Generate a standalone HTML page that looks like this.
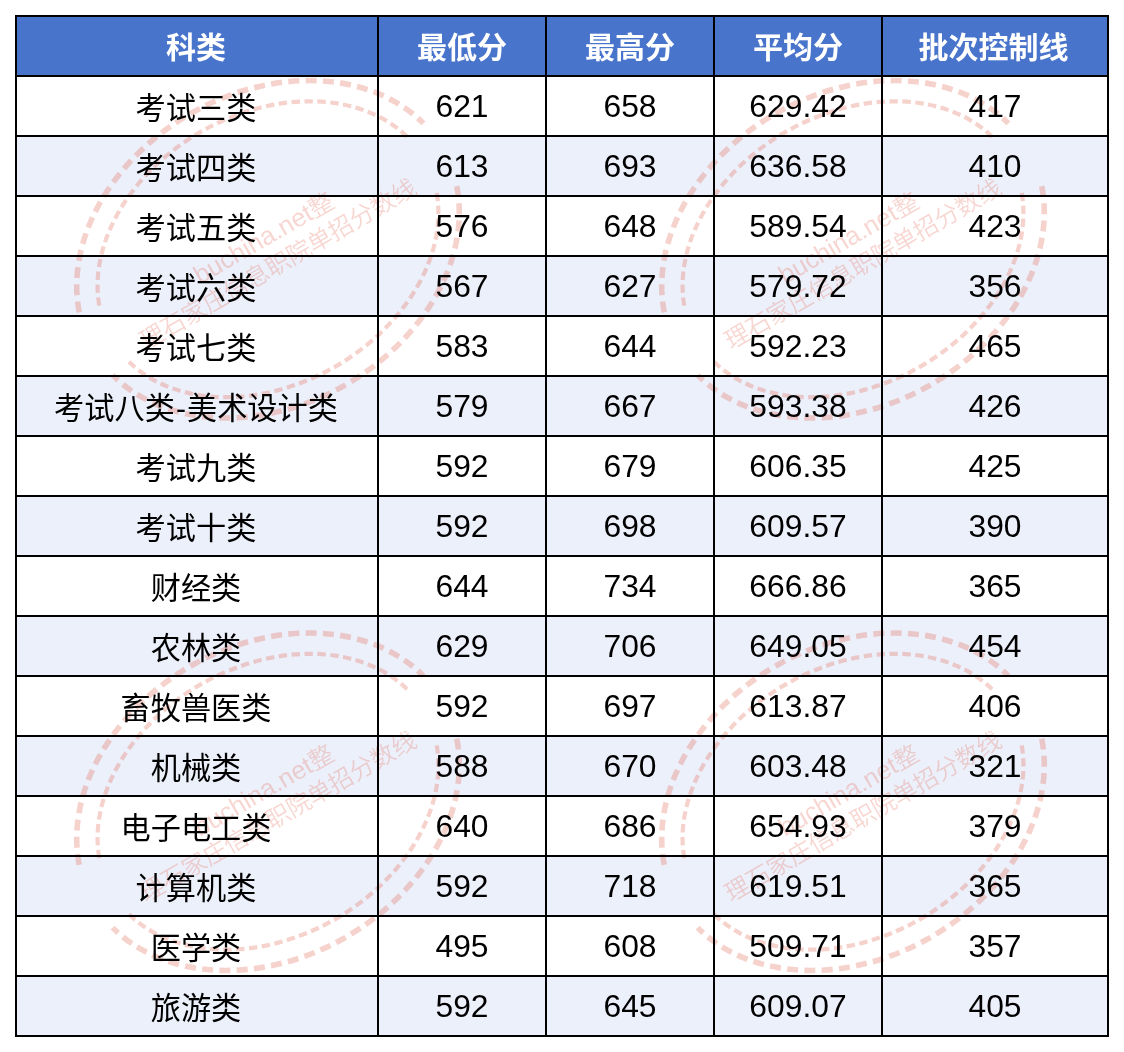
<!DOCTYPE html>
<html lang="zh-CN">
<head>
<meta charset="utf-8">
<title>分数线</title>
<style>
html,body{margin:0;padding:0;background:#fff;}
#pg{position:relative;width:1124px;height:1052px;background:#fff;overflow:hidden;font-family:"Liberation Sans","Noto Sans CJK SC",sans-serif;}
.hb{position:absolute;left:15px;top:15px;width:1094px;height:62px;background:#4874cb;}
.sb{position:absolute;left:15px;width:1094px;height:60px;background:#ecf0fa;}
.vl{position:absolute;top:15px;width:2px;height:1022px;background:#000;}
.hl{position:absolute;left:15px;width:1094px;height:2px;background:#000;}
.r{position:absolute;left:0;width:1124px;height:58px;}
.c{position:absolute;top:0;height:58px;line-height:58px;text-align:center;white-space:nowrap;color:#000;font-size:30px;}
.c.k{line-height:63px;font-size:30.2px;}
.hy{margin:0 1px;}
.c.n{font-size:31.8px;}
.h .c4{left:881.5px}
.h .c{color:#fff;font-weight:bold;font-size:30px;line-height:61px;}
.c0{left:16px;width:360px}.c1{left:379px;width:166px}.c2{left:547px;width:166px}.c3{left:715px;width:166px}.c4{left:883px;width:224px}
#wm{position:absolute;left:0;top:0;}
#wm text{font-family:"Liberation Sans","Noto Sans CJK SC",sans-serif;fill:#e46c5a;font-weight:350;}
</style>
</head>
<body>
<div id="pg">
<div class="hb"></div>
<div class="sb" style="top:136px"></div>
<div class="sb" style="top:256px"></div>
<div class="sb" style="top:376px"></div>
<div class="sb" style="top:496px"></div>
<div class="sb" style="top:616px"></div>
<div class="sb" style="top:736px"></div>
<div class="sb" style="top:856px"></div>
<div class="sb" style="top:976px"></div>
<svg id="wm" width="1124" height="1052" viewBox="0 0 1124 1052">
<g class="seal" opacity="0.30" transform="translate(268 249.25) rotate(-30)">
<path d="M195.0 39.7A201.6 156.2 0 0 1 -197.5 31.3M-195.0 -39.7A201.6 156.2 0 0 1 197.5 -31.3" fill="none" stroke="#e46c5a" stroke-width="5.6" stroke-dasharray="11 6.3"/>
<path d="M174.3 35.5A180.6 135.2 0 0 1 -176.7 28.0M-174.3 -35.5A180.6 135.2 0 0 1 176.7 -28.0" fill="none" stroke="#e46c5a" stroke-width="4.2" stroke-dasharray="8.4 4.5"/>
<text x="-76.5" y="-3.4" font-size="24.5" opacity="0.9"><tspan font-size="25.6">buchina.net</tspan>整</text>
<text x="1.2" y="26.3" font-size="24.2" text-anchor="middle" opacity="0.9">理石家庄信息职院单招分数线</text>
</g>
<g class="seal" opacity="0.30" transform="translate(853 249.25) rotate(-30)">
<path d="M195.0 39.7A201.6 156.2 0 0 1 -197.5 31.3M-195.0 -39.7A201.6 156.2 0 0 1 197.5 -31.3" fill="none" stroke="#e46c5a" stroke-width="5.6" stroke-dasharray="11 6.3"/>
<path d="M174.3 35.5A180.6 135.2 0 0 1 -176.7 28.0M-174.3 -35.5A180.6 135.2 0 0 1 176.7 -28.0" fill="none" stroke="#e46c5a" stroke-width="4.2" stroke-dasharray="8.4 4.5"/>
<text x="-76.5" y="-3.4" font-size="24.5" opacity="0.9"><tspan font-size="25.6">buchina.net</tspan>整</text>
<text x="1.2" y="26.3" font-size="24.2" text-anchor="middle" opacity="0.9">理石家庄信息职院单招分数线</text>
</g>
<g class="seal" opacity="0.30" transform="translate(268 801.75) rotate(-30)">
<path d="M195.0 39.7A201.6 156.2 0 0 1 -197.5 31.3M-195.0 -39.7A201.6 156.2 0 0 1 197.5 -31.3" fill="none" stroke="#e46c5a" stroke-width="5.6" stroke-dasharray="11 6.3"/>
<path d="M174.3 35.5A180.6 135.2 0 0 1 -176.7 28.0M-174.3 -35.5A180.6 135.2 0 0 1 176.7 -28.0" fill="none" stroke="#e46c5a" stroke-width="4.2" stroke-dasharray="8.4 4.5"/>
<text x="-76.5" y="-3.4" font-size="24.5" opacity="0.9"><tspan font-size="25.6">buchina.net</tspan>整</text>
<text x="1.2" y="26.3" font-size="24.2" text-anchor="middle" opacity="0.9">理石家庄信息职院单招分数线</text>
</g>
<g class="seal" opacity="0.30" transform="translate(853 801.75) rotate(-30)">
<path d="M195.0 39.7A201.6 156.2 0 0 1 -197.5 31.3M-195.0 -39.7A201.6 156.2 0 0 1 197.5 -31.3" fill="none" stroke="#e46c5a" stroke-width="5.6" stroke-dasharray="11 6.3"/>
<path d="M174.3 35.5A180.6 135.2 0 0 1 -176.7 28.0M-174.3 -35.5A180.6 135.2 0 0 1 176.7 -28.0" fill="none" stroke="#e46c5a" stroke-width="4.2" stroke-dasharray="8.4 4.5"/>
<text x="-76.5" y="-3.4" font-size="24.5" opacity="0.9"><tspan font-size="25.6">buchina.net</tspan>整</text>
<text x="1.2" y="26.3" font-size="24.2" text-anchor="middle" opacity="0.9">理石家庄信息职院单招分数线</text>
</g>
</svg>
<div class="vl" style="left:15px"></div>
<div class="vl" style="left:377px"></div>
<div class="vl" style="left:545px"></div>
<div class="vl" style="left:713px"></div>
<div class="vl" style="left:881px"></div>
<div class="vl" style="left:1107px"></div>
<div class="hl" style="top:15px"></div>
<div class="hl" style="top:75px"></div>
<div class="hl" style="top:135px"></div>
<div class="hl" style="top:195px"></div>
<div class="hl" style="top:255px"></div>
<div class="hl" style="top:315px"></div>
<div class="hl" style="top:375px"></div>
<div class="hl" style="top:435px"></div>
<div class="hl" style="top:495px"></div>
<div class="hl" style="top:555px"></div>
<div class="hl" style="top:615px"></div>
<div class="hl" style="top:675px"></div>
<div class="hl" style="top:735px"></div>
<div class="hl" style="top:795px"></div>
<div class="hl" style="top:855px"></div>
<div class="hl" style="top:915px"></div>
<div class="hl" style="top:975px"></div>
<div class="hl" style="top:1035px"></div>
<div class="r h" style="top:17px"><div class="c c0">科类</div><div class="c c1">最低分</div><div class="c c2">最高分</div><div class="c c3">平均分</div><div class="c c4">批次控制线</div></div>
<div class="r" style="top:77px"><div class="c c0 k">考试三类</div><div class="c c1 n">621</div><div class="c c2 n">658</div><div class="c c3 n">629.42</div><div class="c c4 n">417</div></div>
<div class="r" style="top:137px"><div class="c c0 k">考试四类</div><div class="c c1 n">613</div><div class="c c2 n">693</div><div class="c c3 n">636.58</div><div class="c c4 n">410</div></div>
<div class="r" style="top:197px"><div class="c c0 k">考试五类</div><div class="c c1 n">576</div><div class="c c2 n">648</div><div class="c c3 n">589.54</div><div class="c c4 n">423</div></div>
<div class="r" style="top:257px"><div class="c c0 k">考试六类</div><div class="c c1 n">567</div><div class="c c2 n">627</div><div class="c c3 n">579.72</div><div class="c c4 n">356</div></div>
<div class="r" style="top:317px"><div class="c c0 k">考试七类</div><div class="c c1 n">583</div><div class="c c2 n">644</div><div class="c c3 n">592.23</div><div class="c c4 n">465</div></div>
<div class="r" style="top:377px"><div class="c c0 k">考试八类<span class="hy">-</span>美术设计类</div><div class="c c1 n">579</div><div class="c c2 n">667</div><div class="c c3 n">593.38</div><div class="c c4 n">426</div></div>
<div class="r" style="top:437px"><div class="c c0 k">考试九类</div><div class="c c1 n">592</div><div class="c c2 n">679</div><div class="c c3 n">606.35</div><div class="c c4 n">425</div></div>
<div class="r" style="top:497px"><div class="c c0 k">考试十类</div><div class="c c1 n">592</div><div class="c c2 n">698</div><div class="c c3 n">609.57</div><div class="c c4 n">390</div></div>
<div class="r" style="top:557px"><div class="c c0 k">财经类</div><div class="c c1 n">644</div><div class="c c2 n">734</div><div class="c c3 n">666.86</div><div class="c c4 n">365</div></div>
<div class="r" style="top:617px"><div class="c c0 k">农林类</div><div class="c c1 n">629</div><div class="c c2 n">706</div><div class="c c3 n">649.05</div><div class="c c4 n">454</div></div>
<div class="r" style="top:677px"><div class="c c0 k">畜牧兽医类</div><div class="c c1 n">592</div><div class="c c2 n">697</div><div class="c c3 n">613.87</div><div class="c c4 n">406</div></div>
<div class="r" style="top:737px"><div class="c c0 k">机械类</div><div class="c c1 n">588</div><div class="c c2 n">670</div><div class="c c3 n">603.48</div><div class="c c4 n">321</div></div>
<div class="r" style="top:797px"><div class="c c0 k">电子电工类</div><div class="c c1 n">640</div><div class="c c2 n">686</div><div class="c c3 n">654.93</div><div class="c c4 n">379</div></div>
<div class="r" style="top:857px"><div class="c c0 k">计算机类</div><div class="c c1 n">592</div><div class="c c2 n">718</div><div class="c c3 n">619.51</div><div class="c c4 n">365</div></div>
<div class="r" style="top:917px"><div class="c c0 k">医学类</div><div class="c c1 n">495</div><div class="c c2 n">608</div><div class="c c3 n">509.71</div><div class="c c4 n">357</div></div>
<div class="r" style="top:977px"><div class="c c0 k">旅游类</div><div class="c c1 n">592</div><div class="c c2 n">645</div><div class="c c3 n">609.07</div><div class="c c4 n">405</div></div>
</div>
</body>
</html>
